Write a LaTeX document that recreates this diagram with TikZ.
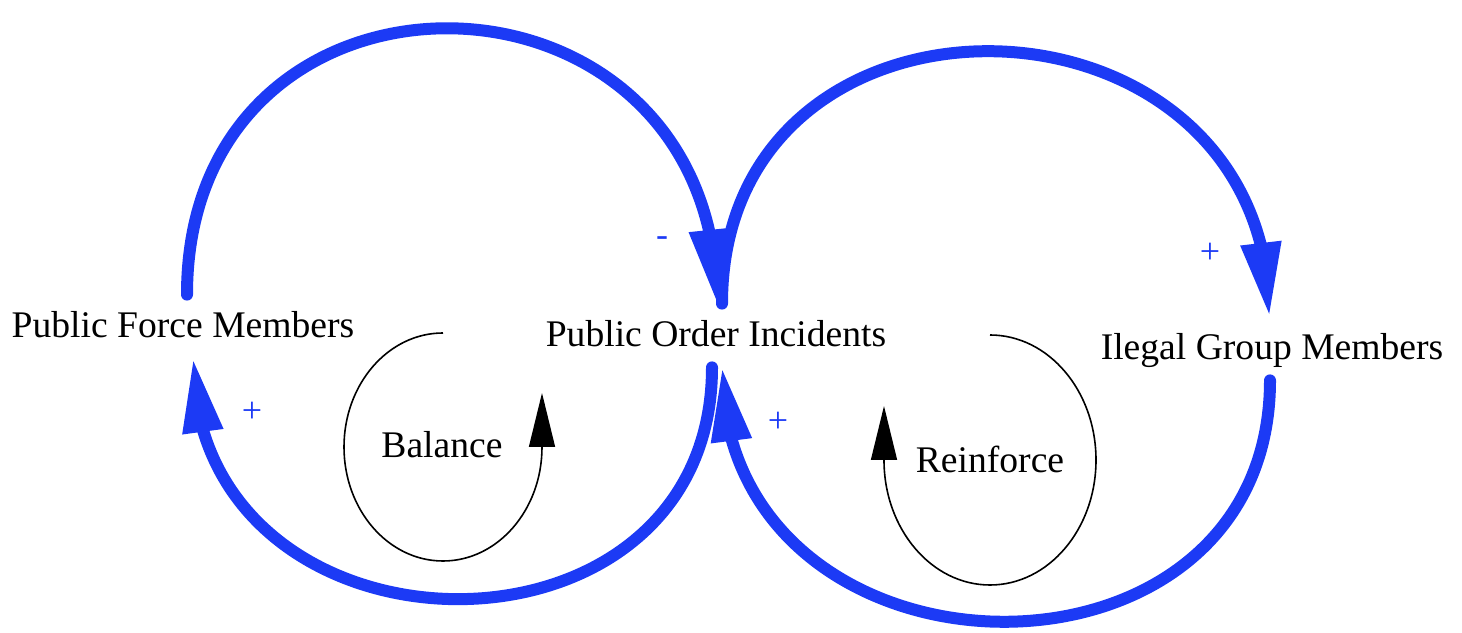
\documentclass[tikz,border=0pt]{standalone}
\usepackage{fontspec}
\setmainfont{Liberation Serif}
\usetikzlibrary{arrows.meta,bending}
\definecolor{loopblue}{RGB}{28,58,245}

\begin{document}
\begin{tikzpicture}[x=0.5pt,y=0.5pt,
    var/.style={font=\fontsize{18.8}{22}\selectfont, inner sep=0pt, text height=21.5pt, text depth=10pt, anchor=base},
    link/.style={draw=loopblue, line width=6pt, line cap=round, -{Triangle[length=37pt,width=19pt]}},
    polarity/.style={text=loopblue, font=\fontsize{18}{20}\selectfont, inner sep=0pt},
    looptag/.style={font=\fontsize{18.8}{22}\selectfont, inner sep=0pt, anchor=base},
    loopline/.style={line width=0.8pt, -{Triangle[length=27pt,width=13pt]}}]
    \useasboundingbox (0,0) rectangle (1462,632);

    \node[var] at (183,294) (pfm) {Public Force Members};
    \node[var] at (716,285) (poi) {Public Order Incidents};
    \node[var] at (1272,272) (ilg) {Ilegal Group Members};

    \node[looptag] at (442,174) (bal) {Balance};
    \node[looptag] at (990,159) (rnf) {Reinforce};

    \draw[link] ([xshift=2pt]pfm.north) to[out=90,in=90,looseness=1.74] ([xshift=0.5pt]poi.north);
    \draw[link] ([xshift=3pt]poi.north) to[out=90,in=90,looseness=1.61] ([xshift=-1.25pt]ilg.north);
    \draw[link] ([xshift=-1pt]ilg.south) to[out=-90,in=-90,looseness=1.54] ([xshift=3pt]poi.south);
    \draw[link] ([xshift=-2pt]poi.south) to[out=-90,in=-90,looseness=1.55] ([xshift=5pt]pfm.south);

    \node[polarity] at (662,390) (pfmpoi) {-};
    \node[polarity] at (1210,379) (poiilg) {+};
    \node[polarity] at (778,210) (ilgpoi) {+};
    \node[polarity] at (252,220) (poipfm) {+};

    \draw[loopline] ([shift={(1,125)}]bal.base) arc[start angle=90,end angle=360,x radius=99,y radius=114] -- ++(0,54);
    \draw[loopline] ([shift={(0,138)}]rnf.base) arc[start angle=90,end angle=-180,x radius=106,y radius=125] -- ++(0,54);
\end{tikzpicture}
\end{document}
